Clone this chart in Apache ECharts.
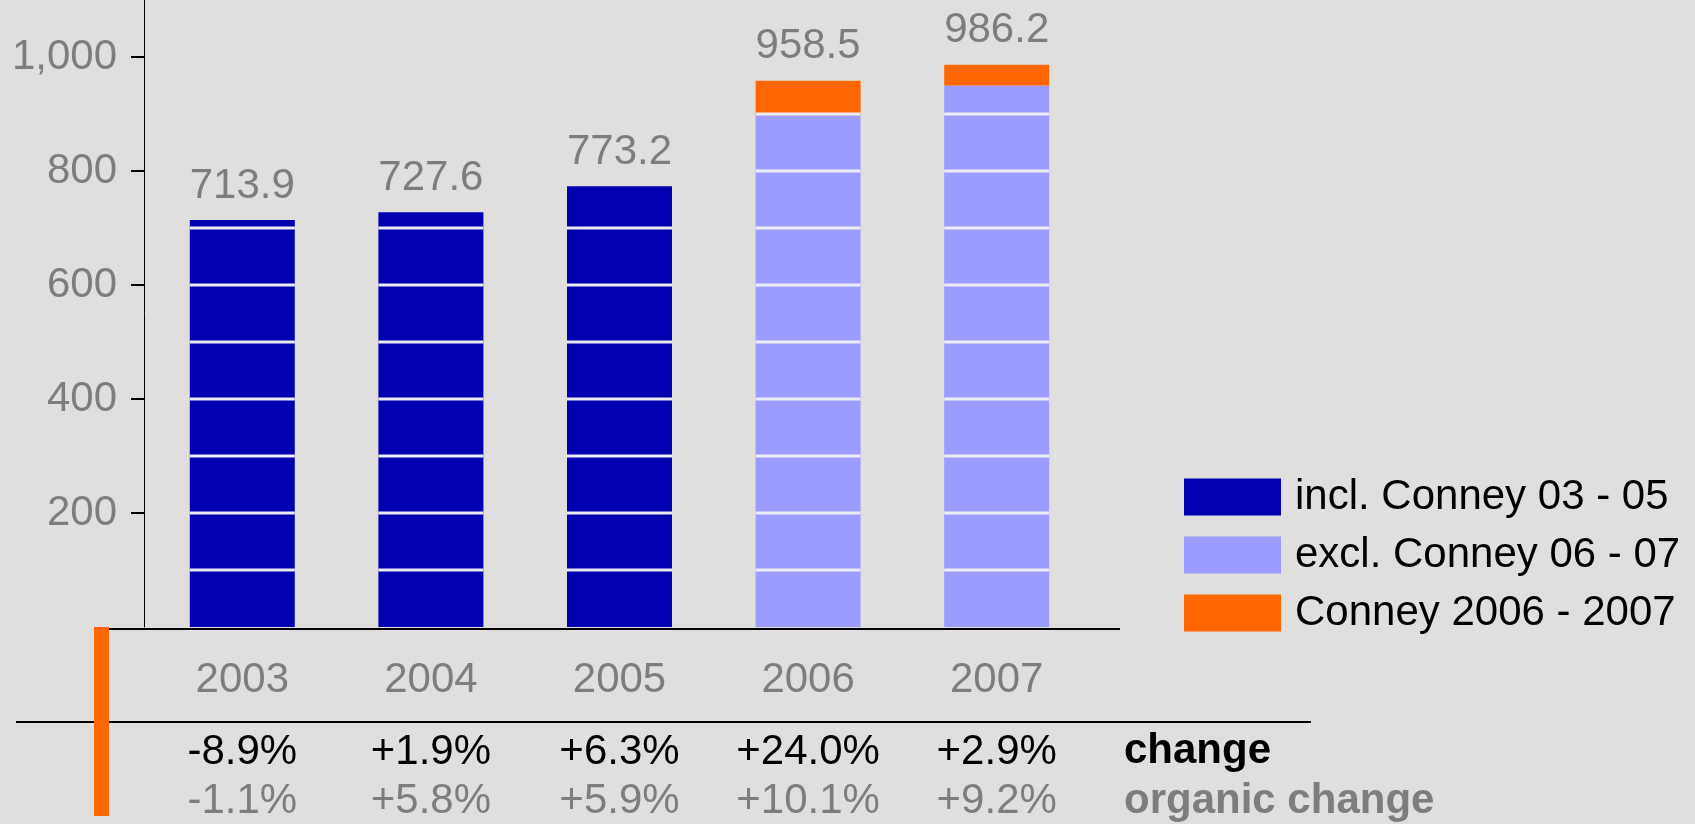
<!DOCTYPE html>
<html>
<head>
<meta charset="utf-8">
<script src="https://cdn.jsdelivr.net/npm/echarts@6/dist/echarts.min.js"></script>
<style>
  html, body { margin: 0; padding: 0; background: #e0dfde; }
  #chart { width: 1695px; height: 824px; }
</style>
</head>
<body>
<div id="chart"></div>
<script>
  // data
  var years = ['2003', '2004', '2005', '2006', '2007'];
  var inclConney = [713.9, 727.6, 773.2, '-', '-'];
  var exclConney = ['-', '-', '-', 898.0, 950.0];
  var conney = ['-', '-', '-', 60.5, 36.2];
  var totals = [713.9, 727.6, 773.2, 958.5, 986.2];
  var change = ['-8.9%', '+1.9%', '+6.3%', '+24.0%', '+2.9%'];
  var organicChange = ['-1.1%', '+5.8%', '+5.9%', '+10.1%', '+9.2%'];
  var yTicks = [200, 400, 600, 800, 1000];

  var grey = '#7f7c80';
  var font = '"Liberation Sans", Arial, sans-serif';

  var chart = echarts.init(document.getElementById('chart'));

  function totalLabel(p) {
    return totals[p.dataIndex].toFixed(1);
  }

  chart.setOption({
    backgroundColor: '#e0dfde',
    animation: false,
    textStyle: { fontFamily: font },
    grid: { left: 148, right: 604, top: 0, bottom: 197 },
    legend: {
      orient: 'vertical',
      left: 1184,
      top: 476,
      padding: 0,
      itemWidth: 97,
      itemHeight: 37,
      itemGap: 16,
      icon: 'rect',
      selectedMode: false,
      data: ['incl. Conney 03 - 05', 'excl. Conney 06 - 07', 'Conney 2006 - 2007'],
      textStyle: { fontSize: 42, color: '#000', lineHeight: 37, padding: [0, 0, 0, 9], fontFamily: font }
    },
    xAxis: {
      type: 'category',
      data: years,
      axisLine: { show: false },
      axisTick: { show: false },
      axisLabel: {
        margin: 5,
        formatter: function (v, i) {
          return '{year|' + v + '}\n{chg|' + change[i] + '}\n{org|' + organicChange[i] + '}';
        },
        rich: {
          year: { fontSize: 42, color: grey, lineHeight: 96, fontFamily: font },
          chg: { fontSize: 42, color: '#000', lineHeight: 48, fontFamily: font },
          org: { fontSize: 42, color: grey, lineHeight: 50, fontFamily: font }
        }
      }
    },
    yAxis: {
      type: 'value',
      min: 0,
      max: 1100,
      interval: 100,
      offset: 4,
      axisLine: { show: true, lineStyle: { color: '#000', width: 1 } },
      axisTick: { show: true, length: 13, lineStyle: { color: '#000', width: 2 }, customValues: yTicks },
      axisLabel: {
        fontSize: 42,
        color: grey,
        margin: 27,
        padding: [0, 0, 10, 0],
        customValues: yTicks,
        formatter: function (v) { return v.toLocaleString('en-US'); }
      },
      splitLine: { show: false }
    },
    series: [
      {
        name: 'incl. Conney 03 - 05',
        type: 'bar',
        stack: 'sales',
        barWidth: 105,
        data: inclConney,
        itemStyle: { color: '#0000b0' },
        label: { show: true, position: 'top', distance: 13, fontSize: 42, color: grey, formatter: totalLabel }
      },
      {
        name: 'excl. Conney 06 - 07',
        type: 'bar',
        stack: 'sales',
        barWidth: 105,
        data: exclConney,
        itemStyle: { color: '#9c9cff' }
      },
      {
        name: 'Conney 2006 - 2007',
        type: 'bar',
        stack: 'sales',
        barWidth: 105,
        data: conney,
        itemStyle: { color: '#ff6600' },
        label: { show: true, position: 'top', distance: 13, fontSize: 42, color: grey, formatter: totalLabel }
      },
      {
        // white rules across the bars every 100
        type: 'custom',
        silent: true,
        z: 5,
        data: totals.map(function (t, i) { return [i, t]; }),
        encode: { x: 0, y: 1 },
        renderItem: function (params, api) {
          var idx = api.value(0), total = api.value(1);
          var half = 105 / 2;
          var lines = [];
          for (var k = 100; k < total; k += 100) {
            var p = api.coord([idx, k]);
            lines.push({
              type: 'line',
              shape: { x1: p[0] - half, y1: p[1], x2: p[0] + half, y2: p[1] },
              style: { stroke: '#ececf4', lineWidth: 3 }
            });
          }
          return { type: 'group', children: lines };
        }
      }
    ],
    graphic: [
      { type: 'line', shape: { x1: 109, y1: 629, x2: 1120, y2: 629 }, style: { stroke: '#000', lineWidth: 2 } },
      { type: 'line', shape: { x1: 16, y1: 722, x2: 1311, y2: 722 }, style: { stroke: '#000', lineWidth: 2 } },
      { type: 'rect', shape: { x: 94, y: 627, width: 15, height: 189 }, style: { fill: '#ff6600' } },
      { type: 'text', x: 1124, y: 751, style: { text: 'change', font: 'bold 42px ' + font, fill: '#000', verticalAlign: 'middle' } },
      { type: 'text', x: 1124, y: 801, style: { text: 'organic change', font: 'bold 42px ' + font, fill: grey, verticalAlign: 'middle' } }
    ]
  });
</script>
</body>
</html>
